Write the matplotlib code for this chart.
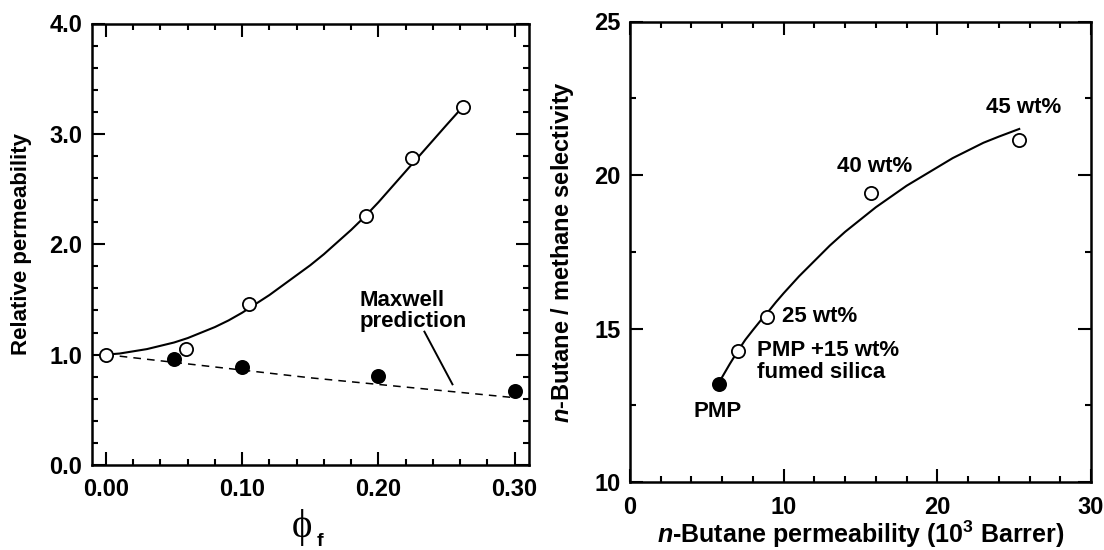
import matplotlib
matplotlib.use("Agg")
import matplotlib.pyplot as plt
from matplotlib.ticker import MultipleLocator, FormatStrFormatter

plt.rcParams['font.family'] = ['Liberation Sans', 'DejaVu Sans']
plt.rcParams['font.weight'] = 'bold'
plt.rcParams['mathtext.fontset'] = 'custom'
plt.rcParams['mathtext.rm'] = 'Liberation Sans:bold'
plt.rcParams['mathtext.it'] = 'Liberation Sans:italic:bold'
plt.rcParams['mathtext.bf'] = 'Liberation Sans:bold'

# ---- Left panel data ----
phi_open = [0.0, 0.059, 0.105, 0.191, 0.225, 0.262]
relperm_open = [1.00, 1.05, 1.46, 2.26, 2.78, 3.24]
phi_filled = [0.05, 0.10, 0.20, 0.30]
relperm_filled = [0.96, 0.89, 0.81, 0.67]
fit_phi = [0.0, 0.01, 0.02, 0.03, 0.04, 0.05, 0.06, 0.07, 0.08, 0.09, 0.10, 0.11, 0.12, 0.13,
           0.14, 0.15, 0.16, 0.17, 0.18, 0.19, 0.20, 0.21, 0.22, 0.23, 0.24, 0.25, 0.2616]
fit_rel = [1.00, 1.01, 1.03, 1.05, 1.08, 1.11, 1.15, 1.20, 1.25, 1.31, 1.38, 1.46, 1.54, 1.63,
           1.72, 1.81, 1.91, 2.02, 2.13, 2.25, 2.38, 2.52, 2.66, 2.80, 2.94, 3.08, 3.24]
maxwell_phi = [0.0, 0.05, 0.10, 0.15, 0.20, 0.25, 0.30]
maxwell_rel = [1.00, 0.93, 0.86, 0.79, 0.73, 0.67, 0.61]

# ---- Right panel data ----
perm_pmp = [5.76]
sel_pmp = [13.20]
perm_open = [7.02, 8.94, 15.71, 25.33]
sel_open = [14.27, 15.39, 19.41, 21.15]
labels_open = ["PMP +15 wt%\nfumed silica", "25 wt%", "40 wt%", "45 wt%"]
fit_perm = [5.76, 6.0, 6.5, 7.02, 7.5, 8.0, 8.5, 9.0, 9.5, 10, 11, 12, 13, 14, 15, 16, 17, 18,
            19, 20, 21, 22, 23, 24, 25.33]
fit_sel = [13.20, 13.42, 13.85, 14.27, 14.63, 14.95, 15.26, 15.55, 15.86, 16.15, 16.7, 17.2, 17.7,
           18.15, 18.55, 18.95, 19.3, 19.65, 19.95, 20.25, 20.55, 20.8, 21.05, 21.25, 21.5]

W, H = 1104, 550
fig = plt.figure(figsize=(W / 100, H / 100), dpi=100)
L1 = (92, 23.5, 529, 465)      # left, top, right, bottom in pixels
L2 = (630, 21.5, 1091, 482)
ax1 = fig.add_axes([L1[0] / W, 1 - L1[3] / H, (L1[2] - L1[0]) / W, (L1[3] - L1[1]) / H])
ax2 = fig.add_axes([L2[0] / W, 1 - L2[3] / H, (L2[2] - L2[0]) / W, (L2[3] - L2[1]) / H])

def style(ax, size):
    for s in ax.spines.values():
        s.set_linewidth(1.8)
    ax.tick_params(which='both', direction='in', top=True, right=True, width=1.5, labelsize=size)
    ax.tick_params(which='major', length=9.5)
    ax.tick_params(which='minor', length=4.5)
    for lab in ax.get_xticklabels() + ax.get_yticklabels():
        lab.set_fontweight('bold')

# Left
ax1.plot(fit_phi, fit_rel, color='black', lw=1.5, zorder=2)
ax1.plot(maxwell_phi, maxwell_rel, color='black', lw=1.1, dashes=(5.0, 4.0), zorder=2)
ax1.plot(phi_open, relperm_open, 'o', ms=9.5, mfc='white', mec='black', mew=1.3, zorder=3)
ax1.plot(phi_filled, relperm_filled, 'o', ms=9.5, mfc='black', mec='black', mew=1.3, zorder=3)
ax1.plot([0.2338, 0.2544], [1.208, 0.731], color='black', lw=1.4)
ax1.text(0.186, 1.59, "Maxwell\nprediction", fontsize=16, fontweight='bold', ha='left', va='top',
         linespacing=1.05)
ax1.set_xlim(-0.0103, 0.3106)
ax1.set_ylim(0, 4.0)
ax1.xaxis.set_major_locator(MultipleLocator(0.1))
ax1.xaxis.set_minor_locator(MultipleLocator(0.02))
ax1.yaxis.set_major_locator(MultipleLocator(1.0))
ax1.yaxis.set_minor_locator(MultipleLocator(0.2))
ax1.xaxis.set_major_formatter(FormatStrFormatter('%.2f'))
ax1.yaxis.set_major_formatter(FormatStrFormatter('%.1f'))
style(ax1, 17)
ax1.tick_params(axis='x', pad=9)
ax1.tick_params(axis='y', pad=7)
ax1.set_ylabel("Relative permeability", fontsize=16, fontweight='bold')
ax1.yaxis.set_label_coords((32 - L1[0]) / (L1[2] - L1[0]), 0.5)
fig.text(302 / W, 1 - 527 / H, "\u03d5", family=['Liberation Serif', 'DejaVu Serif'],
         fontsize=28, fontweight='normal', ha='center', va='center')
fig.text(320 / W, 1 - 542 / H, "f", fontsize=14, fontweight='bold', ha='center', va='center')

# Right
ax2.plot(fit_perm, fit_sel, color='black', lw=1.5, zorder=2)
ax2.plot(perm_open, sel_open, 'o', ms=9.5, mfc='white', mec='black', mew=1.3, zorder=3)
ax2.plot(perm_pmp, sel_pmp, 'o', ms=9.5, mfc='black', mec='black', mew=1.3, zorder=3)
ax2.text(5.71, 12.31, "PMP", fontsize=16, fontweight='bold', ha='center', va='center')
label_pos = [(8.24, 14.36), (9.89, 15.39), (13.48, 20.27), (23.14, 22.21)]
ax2.text(label_pos[0][0], label_pos[0][1] + 0.27, labels_open[0], fontsize=16, fontweight='bold',
         ha='left', va='top', linespacing=1.05)
for (lx, ly), txt in zip(label_pos[1:], labels_open[1:]):
    ax2.text(lx, ly, txt, fontsize=16, fontweight='bold', ha='left', va='center')
ax2.set_xlim(0, 30)
ax2.set_ylim(10, 25)
ax2.xaxis.set_major_locator(MultipleLocator(10))
ax2.xaxis.set_minor_locator(MultipleLocator(2))
ax2.yaxis.set_major_locator(MultipleLocator(5))
ax2.yaxis.set_minor_locator(MultipleLocator(2.5))
style(ax2, 17)
ax2.tick_params(axis='x', pad=10)
ax2.tick_params(axis='y', pad=7)
ax2.set_xlabel(r"$\mathit{n}$-Butane permeability (10$^{\mathrm{3}}$ Barrer)", fontsize=18,
               fontweight='bold')
ax2.xaxis.label.set_va('baseline')
ax2.xaxis.set_label_coords(0.5, (L2[3] - 543) / (L2[3] - L2[1]))
ax2.set_ylabel(r"$\mathit{n}$-Butane / methane selectivity", fontsize=17, fontweight='bold')
ax2.yaxis.set_label_coords((576 - L2[0]) / (L2[2] - L2[0]), 0.5)

fig.savefig("out.png", dpi=100)
